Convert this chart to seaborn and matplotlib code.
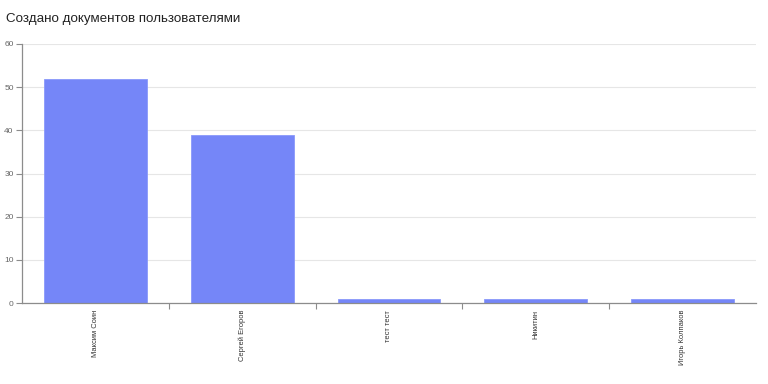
import matplotlib
matplotlib.use("Agg")
import matplotlib.pyplot as plt
import seaborn as sns
import pandas as pd
import numpy as np

users = ["Максим Соин", "Сергей Егоров", "тест тест", "Никитин", "Игорь Колпаков"]
documents = [52, 39, 1, 1, 1]
y_ticks = [0, 10, 20, 30, 40, 50, 60]

sns.set_style("white")
plt.rcParams["font.family"] = ["Liberation Sans", "DejaVu Sans"]

df = pd.DataFrame({"user": users, "documents": documents})

fig = plt.figure(figsize=(7.68, 3.84), dpi=100)
fig.patch.set_facecolor("#ffffff")
ax = fig.add_axes([22 / 768, 1 - 303 / 384, 734 / 768, 259 / 384])

sns.barplot(data=df, x="user", y="documents", color="#7586f8", saturation=1,
            width=0.7, ax=ax, edgecolor="#8a99fa", linewidth=0.6, zorder=2)

ax.set_xlim(-0.5, len(users) - 0.5)
ax.set_ylim(0, 60)
ax.set_yticks(y_ticks)
ax.yaxis.grid(True, color="#e6e6e6", linewidth=0.8, zorder=0)
ax.set_axisbelow(True)
ax.set_xlabel("")
ax.set_ylabel("")

for side in ["top", "right"]:
    ax.spines[side].set_visible(False)
for side in ["left", "bottom"]:
    ax.spines[side].set_color("#8c8c8c")
    ax.spines[side].set_linewidth(0.9)

ax.tick_params(axis="y", labelsize=6, colors="#8c8c8c", labelcolor="#666666",
               length=4, width=0.8, direction="out", pad=2, left=True)

ax.set_xticks(range(len(users)))
ax.set_xticklabels(users, rotation=90, fontsize=5.4, color="#333333", va="top")
ax.tick_params(axis="x", length=0, pad=5)
ax.set_xticks(np.arange(0.5, len(users) - 0.5, 1), minor=True)
ax.tick_params(axis="x", which="minor", length=4, width=0.8, colors="#8c8c8c",
               direction="out", bottom=True)

fig.text(6 / 768, 1 - 19 / 384, "Создано документов пользователями",
         fontsize=9.6, color="#222222", va="center", ha="left")

fig.savefig("out.png", dpi=100)
